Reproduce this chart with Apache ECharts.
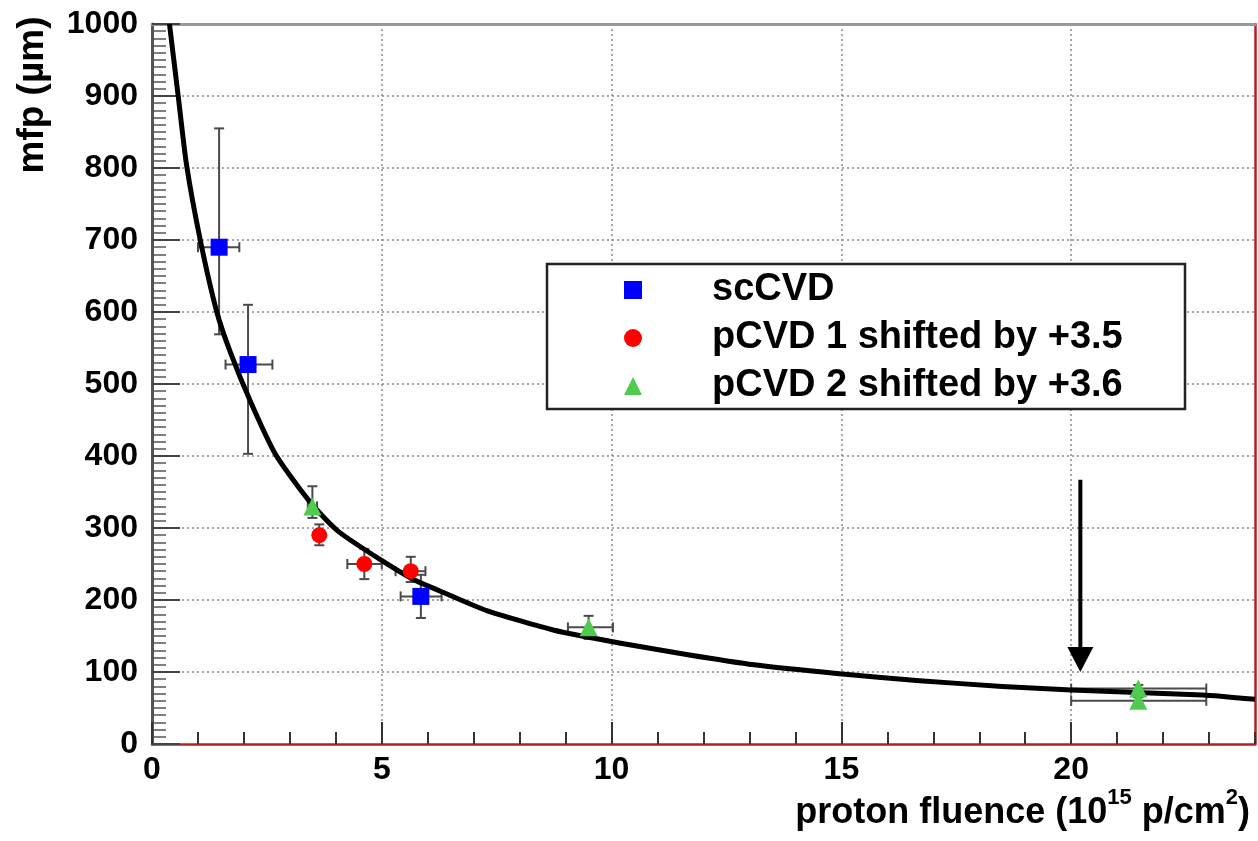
<!DOCTYPE html>
<html><head><meta charset="utf-8">
<script src="https://cdn.jsdelivr.net/npm/echarts@6/dist/echarts.min.js"></script>
<style>html,body{margin:0;padding:0;background:#fff}#c{width:1258px;height:841px}</style>
</head><body><div id="c"></div>
<script>
// ---- data ----
const seriesNames = ['scCVD', 'pCVD 1 shifted by +3.5', 'pCVD 2 shifted by +3.6'];

const scCVD_x   = [1.46, 2.09, 5.85];
const scCVD_y   = [690, 527, 205];
const scCVD_xlo = [1.0, 1.6, 5.41];
const scCVD_xhi = [1.9, 2.62, 6.3];
const scCVD_ylo = [569, 403, 175];
const scCVD_yhi = [855, 610, 235];

const pCVD1_x   = [3.64, 4.62, 5.63];
const pCVD1_y   = [290, 250, 240];
const pCVD1_xlo = [3.54, 4.25, 5.3];
const pCVD1_xhi = [3.74, 5.0, 5.95];
const pCVD1_ylo = [276, 229, 225];
const pCVD1_yhi = [305, 271, 260];

const pCVD2_x   = [3.49, 9.5, 21.46, 21.46];
const pCVD2_y   = [330, 162, 77, 60];
const pCVD2_xlo = [3.39, 9.05, 20.0, 20.0];
const pCVD2_xhi = [3.59, 10.03, 22.94, 22.94];
const pCVD2_ylo = [314, 146, 72, 55];
const pCVD2_yhi = [358, 178, 82, 65];

const fitX = [0.38, 0.57, 0.75, 1.05, 1.41, 1.7, 2.14, 2.68, 3.23, 3.59, 4.06, 4.97, 5.7, 6.43, 7.3, 8.75, 10.2, 11.66, 13.1, 14.9, 16.7, 18.5, 20.0, 22.86, 24.0];
const fitY = [1000, 900, 805, 700, 600, 545, 476, 403, 353, 325, 295, 256, 228, 208, 185, 158, 140, 124, 110, 98, 88, 80, 75, 68, 62];

const arrowX = 20.2;
const arrowFromY = 367;
const arrowToY = 100;

const xMin = 0, xMax = 24, xStep = 5, xMinorStep = 1;
const yMin = 0, yMax = 1000, yStep = 100;

// ---- build ----
const FONT = '"Liberation Sans", Arial, Helvetica, sans-serif';
function zip(...arrs) { return arrs[0].map((_, i) => arrs.map(a => a[i])); }

function errRender(params, api) {
  const x = api.value(0), y = api.value(1);
  const pL = api.coord([api.value(2), y]), pR = api.coord([api.value(3), y]);
  const pB = api.coord([x, api.value(4)]), pT = api.coord([x, api.value(5)]);
  const c = 5;
  const style = { stroke: '#4a4a4a', lineWidth: 2 };
  const ln = (x1, y1, x2, y2) => ({ type: 'line', shape: { x1, y1, x2, y2 }, style });
  return { type: 'group', children: [
    ln(pL[0], pL[1], pR[0], pR[1]),
    ln(pL[0], pL[1] - c, pL[0], pL[1] + c),
    ln(pR[0], pR[1] - c, pR[0], pR[1] + c),
    ln(pB[0], pB[1], pT[0], pT[1]),
    ln(pB[0] - c, pB[1], pB[0] + c, pB[1]),
    ln(pT[0] - c, pT[1], pT[0] + c, pT[1])
  ]};
}

function arrowRender(params, api) {
  const p0 = api.coord([api.value(0), api.value(1)]);
  const p1 = api.coord([api.value(0), api.value(2)]);
  const hw = 13, hh = 25;
  return { type: 'group', children: [
    { type: 'line', shape: { x1: p0[0], y1: p0[1], x2: p1[0], y2: p1[1] - hh + 2 }, style: { stroke: '#000', lineWidth: 4 } },
    { type: 'polygon', shape: { points: [[p1[0] - hw, p1[1] - hh], [p1[0] + hw, p1[1] - hh], [p1[0], p1[1]]] }, style: { fill: '#000' } }
  ]};
}

function errSeries(name, xs, ys, xlo, xhi, ylo, yhi) {
  return { type: 'custom', name: name + ' err', renderItem: errRender, z: 2,
    encode: { x: 0, y: 1 }, data: zip(xs, ys, xlo, xhi, ylo, yhi), silent: true };
}

const chart = echarts.init(document.getElementById('c'), null, { renderer: 'canvas' });
const gridline = { show: true, lineStyle: { color: '#8a8a8a', width: 1.5, type: [2, 3] } };

chart.setOption({
  animation: false,
  backgroundColor: '#fff',
  grid: { left: 152, right: 3, top: 24, bottom: 97 },
  xAxis: [
    { type: 'value', min: xMin, max: xMax, interval: xStep, position: 'bottom',
      axisLine: { show: true, lineStyle: { color: '#b22222', width: 2.5 } },
      axisTick: { show: true, inside: true, length: 22, lineStyle: { color: '#333', width: 2 } },
      axisLabel: { show: true, showMaxLabel: false, margin: 10, color: '#000', fontSize: 32, fontWeight: 'bold', fontFamily: FONT,
        formatter: v => String(v) },
      splitLine: Object.assign({ showMinLine: false, showMaxLine: false }, gridline) },
    { type: 'value', min: xMin, max: xMax, interval: xMinorStep, position: 'bottom',
      axisLine: { show: false }, axisLabel: { show: false }, splitLine: { show: false },
      axisTick: { show: true, inside: true, length: 12, lineStyle: { color: '#333', width: 2 } } },
    { type: 'value', min: xMin, max: xMax, position: 'top',
      axisLine: { show: true, lineStyle: { color: '#999', width: 3 } },
      axisTick: { show: false }, axisLabel: { show: false }, splitLine: { show: false } }
  ],
  yAxis: [
    { type: 'value', min: yMin, max: yMax, interval: yStep, position: 'left',
      axisLine: { show: true, lineStyle: { color: '#555', width: 3 } },
      axisTick: { show: true, inside: true, length: 28, lineStyle: { color: '#444', width: 2 } },
      minorTick: { show: true, splitNumber: 10, length: 14, lineStyle: { color: '#555', width: 1.5 } },
      axisLabel: { show: true, margin: 14, color: '#000', fontSize: 32, fontWeight: 'bold', fontFamily: FONT,
        formatter: v => String(v) },
      splitLine: Object.assign({ showMinLine: false, showMaxLine: false }, gridline) },
    { type: 'value', min: yMin, max: yMax, position: 'right',
      axisLine: { show: true, onZero: false, lineStyle: { color: '#b22222', width: 2.5 } },
      axisTick: { show: false }, axisLabel: { show: false }, splitLine: { show: false } }
  ],
  legend: {
    orient: 'vertical', left: 619, top: 266, itemWidth: 18, itemHeight: 18, itemGap: 10,
    selectedMode: false, z: 6,
    data: [
      { name: seriesNames[0], icon: 'rect' },
      { name: seriesNames[1], icon: 'circle' },
      { name: seriesNames[2], icon: 'triangle' }
    ],
    textStyle: { fontSize: 38, fontWeight: 'bold', fontFamily: FONT, color: '#000', lineHeight: 38, padding: [0, 0, 0, 65] }
  },
  graphic: [
    { type: 'rect', z: 3, shape: { x: 547, y: 264, width: 638, height: 145 },
      style: { fill: '#fff', stroke: '#222', lineWidth: 2.5 } },
    { type: 'text', z: 5, x: 33, y: 95, rotation: Math.PI / 2,
      style: { text: 'mfp (\u00b5m)', font: 'bold 37px ' + FONT, fill: '#000', textAlign: 'center', textVerticalAlign: 'middle' } },
    { type: 'text', z: 5, right: 8, top: 787,
      style: { text: '{a|proton fluence (10}{s|15}{a| p/cm}{s|2}{a|)}', fill: '#000',
        rich: {
          a: { fontSize: 36, fontWeight: 'bold', fontFamily: FONT, color: '#000', lineHeight: 44, verticalAlign: 'bottom' },
          s: { fontSize: 22, fontWeight: 'bold', fontFamily: FONT, color: '#000', lineHeight: 24, verticalAlign: 'top' }
        } } }
  ],
  series: [
    errSeries(seriesNames[0], scCVD_x, scCVD_y, scCVD_xlo, scCVD_xhi, scCVD_ylo, scCVD_yhi),
    errSeries(seriesNames[1], pCVD1_x, pCVD1_y, pCVD1_xlo, pCVD1_xhi, pCVD1_ylo, pCVD1_yhi),
    errSeries(seriesNames[2], pCVD2_x, pCVD2_y, pCVD2_xlo, pCVD2_xhi, pCVD2_ylo, pCVD2_yhi),
    { type: 'line', name: 'fit', data: zip(fitX, fitY), showSymbol: false, smooth: 0.2,
      lineStyle: { color: '#000', width: 5, join: 'round' }, z: 3, clip: true, silent: true },
    { type: 'custom', name: 'arrow', renderItem: arrowRender, z: 3, encode: { x: 0, y: 1 },
      data: [[arrowX, arrowFromY, arrowToY]], silent: true },
    { type: 'scatter', name: seriesNames[0], symbol: 'rect', symbolSize: 17, z: 4,
      itemStyle: { color: '#0000ff', opacity: 1 }, data: zip(scCVD_x, scCVD_y) },
    { type: 'scatter', name: seriesNames[1], symbol: 'circle', symbolSize: 16, z: 4,
      itemStyle: { color: '#ff0000', opacity: 1 }, data: zip(pCVD1_x, pCVD1_y) },
    { type: 'scatter', name: seriesNames[2], symbol: 'triangle', symbolSize: 18, z: 4,
      itemStyle: { color: '#4fcc4f', opacity: 1 }, data: zip(pCVD2_x, pCVD2_y) }
  ]
});
</script>
</body></html>
